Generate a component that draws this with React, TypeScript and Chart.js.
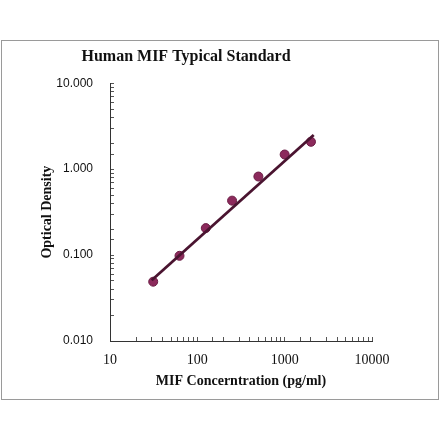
import React, { useEffect, useRef } from 'react';
import Chart from 'chart.js/auto';

// standard curve (pg/ml vs OD)
const concentrations = [31.25, 62.5, 125, 250, 500, 1000, 2000];
const odValues = [0.049, 0.098, 0.206, 0.43, 0.82, 1.48, 2.08];

// fitted line endpoints
const fitX = [30, 2150];
const fitY = [0.051, 2.5];

const xTickLabels = ['10', '100', '1000', '10000'];
const yTickLabels = ['0.010', '0.100', '1.000', '10.000'];

const isPow10 = (v: number) => Math.abs(Math.log10(v) - Math.round(Math.log10(v))) < 1e-9;

const App: React.FC = () => {
  const canvasRef = useRef<HTMLCanvasElement | null>(null);
  const chartRef = useRef<Chart | null>(null);

  useEffect(() => {
    if (!canvasRef.current) return;
    chartRef.current?.destroy();

    chartRef.current = new Chart(canvasRef.current, {
      type: 'scatter',
      data: {
        datasets: [
          {
            label: 'fit',
            data: fitX.map((x, i) => ({ x, y: fitY[i] })),
            showLine: true,
            borderColor: '#4a1430',
            borderWidth: 2.8,
            pointRadius: 0,
          },
          {
            label: 'standard',
            data: concentrations.map((x, i) => ({ x, y: odValues[i] })),
            backgroundColor: '#8c2a5c',
            borderColor: '#6b1c44',
            borderWidth: 1,
            pointRadius: 4.5,
          },
        ],
      },
      options: {
        responsive: false,
        animation: false,
        layout: { padding: { left: 0, right: 68, top: 0, bottom: 0 } },
        plugins: {
          legend: { display: false },
          tooltip: { enabled: false },
          title: {
            display: true,
            text: 'Human MIF Typical Standard',
            color: '#111',
            font: { family: '"Liberation Serif", serif', size: 16, weight: 'bold' },
            padding: { top: 47, bottom: 17 },
          },
        },
        scales: {
          x: {
            type: 'logarithmic',
            min: 10,
            max: 10000,
            afterFit: (s: any) => { s.height = 100; },
            border: { color: '#333', width: 1 },
            grid: { drawOnChartArea: false, tickLength: -4, color: '#555' },
            ticks: {
              autoSkip: false,
              maxRotation: 0,
              padding: 15,
              color: '#111',
              font: { family: '"Liberation Serif", serif', size: 14 },
              callback: (v: any) => {
                const val = Number(v);
                if (!isPow10(val)) return '';
                return xTickLabels[Math.round(Math.log10(val)) - 1] ?? '';
              },
            },
            title: {
              display: true,
              text: 'MIF Concerntration (pg/ml)',
              color: '#111',
              font: { family: '"Liberation Serif", serif', size: 14, weight: 'bold' },
              padding: { top: 0, bottom: 51 },
            },
          },
          y: {
            type: 'logarithmic',
            min: 0.01,
            max: 10,
            afterFit: (s: any) => { s.width = 110; },
            border: { color: '#333', width: 1 },
            grid: { drawOnChartArea: false, tickLength: -4, color: '#555' },
            ticks: {
              autoSkip: false,
              padding: 21,
              color: '#111',
              font: { family: '"Liberation Sans", sans-serif', size: 12 },
              callback: (v: any) => {
                const val = Number(v);
                if (!isPow10(val)) return '';
                return yTickLabels[Math.round(Math.log10(val)) + 2] ?? '';
              },
            },
            title: {
              display: true,
              text: 'Optical Density',
              color: '#111',
              font: { family: '"Liberation Serif", serif', size: 14, weight: 'bold' },
              padding: { top: 39, bottom: 0 },
            },
          },
        },
      },
    });

    return () => {
      chartRef.current?.destroy();
      chartRef.current = null;
    };
  }, []);

  return (
    <div style={{ position: 'absolute', left: 0, top: 0, width: 440, height: 441, background: '#fff' }}>
      <div
        style={{
          position: 'absolute',
          left: 1,
          top: 40,
          width: 436,
          height: 358,
          border: '1px solid #9a9a9a',
        }}
      />
      <canvas ref={canvasRef} width={440} height={441} style={{ position: 'absolute', left: 0, top: 0 }} />
    </div>
  );
};

export default App;
